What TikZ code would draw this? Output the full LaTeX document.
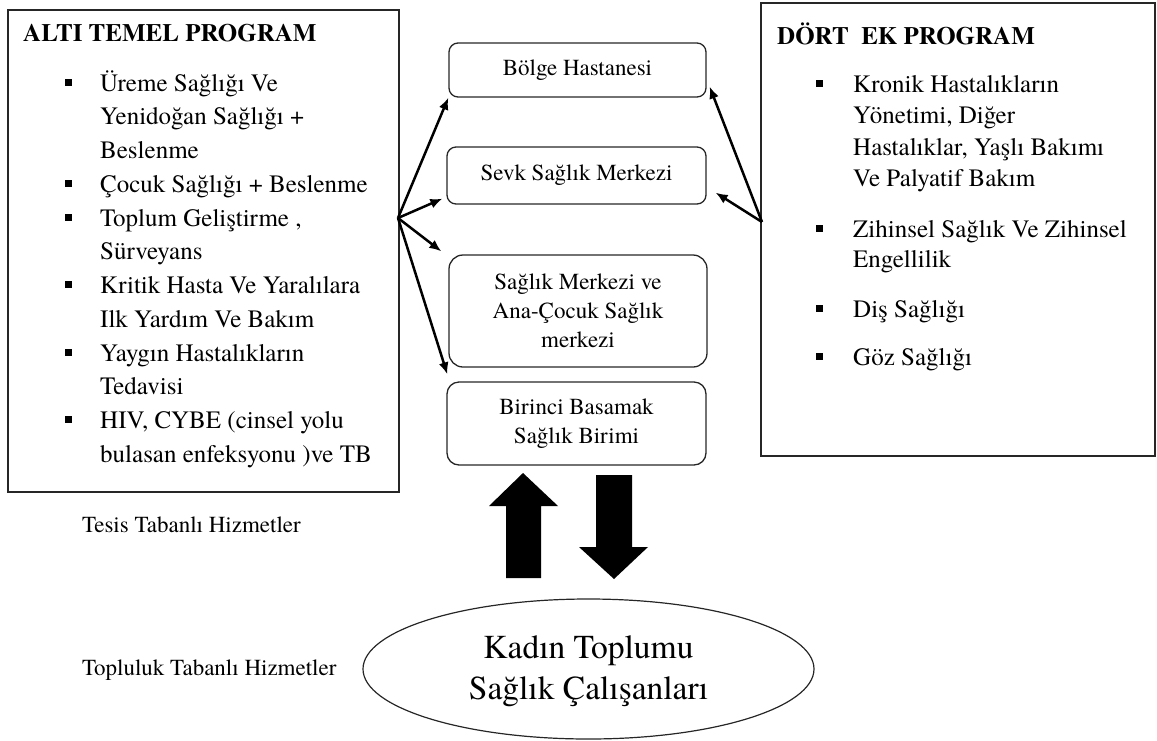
\documentclass[tikz,border=0pt]{standalone}
\usepackage{fontspec}
\IfFontExistsTF{texgyretermes-regular.otf}
  {\setmainfont{texgyretermes}[Extension=.otf,UprightFont=*-regular,BoldFont=*-bold,
     ItalicFont=*-italic,BoldItalicFont=*-bolditalic]}
  {\setmainfont{Liberation Serif}}
\usetikzlibrary{arrows.meta,shapes.geometric}
\begin{document}
\begin{tikzpicture}[x=1pt,y=-1pt,
  frame/.style={draw=black!85,line width=1.3pt,inner sep=0pt},
  level/.style={draw=black!85,line width=1.3pt,rounded corners=9pt,align=center,
    font=\rmfamily\fontsize{23}{29}\selectfont,inner sep=0pt},
  body/.style={anchor=base west,inner sep=0pt,font=\rmfamily\fontsize{25}{30}\selectfont},
  head/.style={anchor=base west,inner sep=0pt,font=\rmfamily\bfseries\fontsize{25}{30}\selectfont},
  note/.style={anchor=base west,inner sep=0pt,font=\rmfamily\fontsize{23}{28}\selectfont},
  bullet/.style={fill=black,minimum size=7pt,inner sep=0pt},
  link/.style={line width=2.5pt,-{Latex[length=12pt,width=10pt]}},
  block/.style={fill=black}
]
\useasboundingbox (0,0) rectangle (1157,740);

% programme frames
\node[frame,minimum width=391pt,minimum height=482pt] (lbox) at (203.5,251) {};
\node[frame,minimum width=394pt,minimum height=453pt] (rbox) at (958,229.5) {};

% six core programmes
\node[head] (lhead) at (23,41) {ALTI TEMEL PROGRAM};
\foreach \y/\t [count=\i] in {
    91/{Üreme Sağlığı Ve},
    124.75/{Yenidoğan Sağlığı +},
    158.5/{Beslenme},
    192.25/{Çocuk Sağlığı + Beslenme},
    226/{Toplum Geliştirme ,},
    259.75/{Sürveyans},
    293.5/{Kritik Hasta Ve Yaralılara},
    327.25/{Ilk Yardım Ve Bakım},
    361/{Yaygın Hastalıkların},
    394.75/{Tedavisi},
    428.5/{HIV, CYBE (cinsel yolu},
    462.25/{bulasan enfeksyonu )ve TB}}
  \node[body] (lt\i) at (100,\y) {\t};
\foreach \y [count=\i] in {91,192.25,226,293.5,361,428.5}
  \node[bullet] (lb\i) at (68,\y-8.7) {};

% four additional programmes
\node[head] (rhead) at (777,44) {DÖRT\ \ EK PROGRAM};
\foreach \y/\t [count=\i] in {
    92/{Kronik Hastalıkların},
    123.5/{Yönetimi, Diğer},
    155/{Hastalıklar, Yaşlı Bakımı},
    186.5/{Ve Palyatif Bakım},
    237/{Zihinsel Sağlık Ve Zihinsel},
    267/{Engellilik},
    317/{Diş Sağlığı},
    365/{Göz Sağlığı}}
  \node[body] (rt\i) at (853,\y) {\t};
\foreach \y [count=\i] in {92,237,317,365}
  \node[bullet] (rb\i) at (819,\y-8.5) {};

% service levels
\node[level,minimum width=257pt,minimum height=54pt] (b1) at (577.5,70) {Bölge Hastanesi};
\node[level,minimum width=259pt,minimum height=57pt] (b2) at (576.5,175.5) {Sevk Sağlık Merkezi};
\node[level,rounded corners=14pt,minimum width=258pt,minimum height=112pt] (b3) at (578,311)
  {Sağlık Merkezi ve\\Ana-Çocuk Sağlık\\merkezi};
\node[level,rounded corners=12pt,minimum width=259pt,minimum height=83pt] (b4) at (576.5,423.5)
  {Birinci Basamak\\Sağlık Birimi};

% community health workers
\node[draw=black!85,line width=1.2pt,ellipse,minimum width=451pt,minimum height=140pt,
  inner sep=0pt,text depth=3.5pt,align=center,
  font=\rmfamily\fontsize{33.5}{41}\selectfont] (kadin) at (588.5,669)
  {Kadın Toplumu\\Sağlık Çalışanları};

% side labels
\node[note] (tesis) at (82,532) {Tesis Tabanlı Hizmetler};
\node[note] (topluluk) at (82,675) {Topluluk Tabanlı Hizmetler};

% connectors
\coordinate (L) at (398,218);
\coordinate (R) at (762,222);
\draw[link] (L) -- (b1.south west);
\draw[link] (L) -- ([xshift=-4pt,yshift=6pt]b2.south west);
\draw[link] (L) -- ([xshift=-7pt,yshift=3pt]b3.north west);
\draw[link] (L) -- ([xshift=1pt,yshift=7pt]b4.north west);
\draw[link] (R) -- ([xshift=3pt,yshift=11pt]b1.south east);
\draw[link] (R) -- ([xshift=9pt,yshift=12pt]b2.south east);

% block arrows between the primary unit and the community
\fill[block] (506,578) -- (506,506) -- (489,506) -- (523,473) -- (558,506)
  -- (541,506) -- (541,578) -- cycle;
\fill[block] (596,475) -- (632,475) -- (632,547) -- (648,547) -- (614,579)
  -- (579,547) -- (596,547) -- cycle;
\end{tikzpicture}
\end{document}
